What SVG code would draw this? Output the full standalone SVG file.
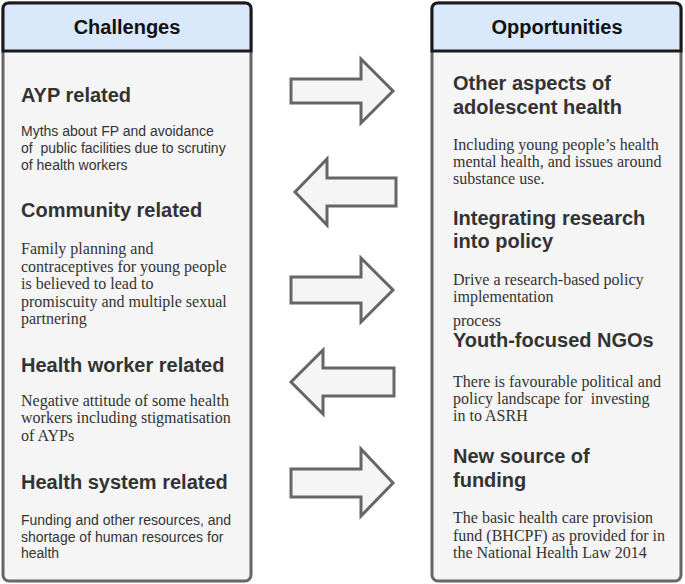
<svg xmlns="http://www.w3.org/2000/svg" width="685" height="584" viewBox="0 0 685 584">
<style>
.body{fill:#f5f5f5;stroke:#666;stroke-width:3}
.hdr{fill:#dae8fc;stroke:#1a1a1a;stroke-width:3}
.title{font-family:"Liberation Sans",Arial,sans-serif;font-weight:bold;font-size:20px;fill:#111;text-anchor:middle}
.h{font-family:"Liberation Sans",Arial,sans-serif;font-weight:bold;font-size:20px;fill:#333}
.s{font-family:"Liberation Sans",Arial,sans-serif;font-size:14px;fill:#333}
.r{font-family:"Liberation Serif","Times New Roman",serif;font-size:16px;fill:#333}
.arrow{fill:#f5f5f5;stroke:#666;stroke-width:3;stroke-linejoin:miter}
</style>
<rect width="685" height="584" fill="#fff"/>
<g id="challenges">
<rect class="body" x="3" y="3" width="248" height="578" rx="6"/>
<path class="hdr" d="M3,51 V9 Q3,3 9,3 H245 Q251,3 251,9 V51 Z"/>
<text class="title" x="127" y="34">Challenges</text>
</g>
<g id="opportunities">
<rect class="body" x="432" y="3" width="249" height="578" rx="6"/>
<path class="hdr" d="M432,51 V9 Q432,3 438,3 H675 Q681,3 681,9 V51 Z"/>
<text class="title" x="557" y="34">Opportunities</text>
</g>
<g id="ayp">
<text class="h" x="21" y="102">AYP related</text>
<text class="s" x="21" y="136" xml:space="preserve">Myths about FP and avoidance</text>
<text class="s" x="21" y="153" xml:space="preserve">of  public facilities due to scrutiny</text>
<text class="s" x="21" y="170">of health workers</text>
</g>
<g id="community">
<text class="h" x="21" y="217">Community related</text>
<text class="r" x="21" y="254">Family planning and</text>
<text class="r" x="21" y="272">contraceptives for young people</text>
<text class="r" x="21" y="289">is believed to lead to</text>
<text class="r" x="21" y="307">promiscuity and multiple sexual</text>
<text class="r" x="21" y="324">partnering</text>
</g>
<g id="healthworker">
<text class="h" x="21" y="372">Health worker related</text>
<text class="r" x="21" y="406">Negative attitude of some health</text>
<text class="r" x="21" y="423">workers including stigmatisation</text>
<text class="r" x="21" y="441">of AYPs</text>
</g>
<g id="healthsystem">
<text class="h" x="21" y="489">Health system related</text>
<text class="s" x="21" y="525">Funding and other resources, and</text>
<text class="s" x="21" y="542">shortage of human resources for</text>
<text class="s" x="21" y="558">health</text>
</g>
<g id="adolescent">
<text class="h" x="453" y="90">Other aspects of</text>
<text class="h" x="453" y="114">adolescent health</text>
<text class="r" x="453" y="150">Including young people’s health</text>
<text class="r" x="453" y="167">mental health, and issues around</text>
<text class="r" x="453" y="184">substance use.</text>
</g>
<g id="research">
<text class="h" x="453" y="225">Integrating research</text>
<text class="h" x="453" y="248">into policy</text>
<text class="r" x="453" y="285">Drive a research-based policy</text>
<text class="r" x="453" y="302">implementation</text>
<text class="r" x="453" y="326">process</text>
</g>
<g id="ngos">
<text class="h" x="453" y="347">Youth-focused NGOs</text>
<text class="r" x="453" y="387">There is favourable political and</text>
<text class="r" x="453" y="404" xml:space="preserve">policy landscape for  investing</text>
<text class="r" x="453" y="421">in to ASRH</text>
</g>
<g id="funding">
<text class="h" x="453" y="463">New source of</text>
<text class="h" x="453" y="487">funding</text>
<text class="r" x="453" y="523">The basic health care provision</text>
<text class="r" x="453" y="541">fund (BHCPF) as provided for in</text>
<text class="r" x="453" y="558">the National Health Law 2014</text>
</g>
<g id="connectors">
<path class="arrow" d="M291,79 H361 V59 L393,91 L361,123 V103 H291 Z"/>
<path class="arrow" d="M396,178 H327 V159 L295,192 L327,225 V206 H396 Z"/>
<path class="arrow" d="M291,277 H361 V258 L393,290 L361,322 V303 H291 Z"/>
<path class="arrow" d="M394,368 H323 V350 L291,382 L323,414 V396 H394 Z"/>
<path class="arrow" d="M291,469 H361 V449 L393,483 L361,516 V497 H291 Z"/>
</g>
</svg>
